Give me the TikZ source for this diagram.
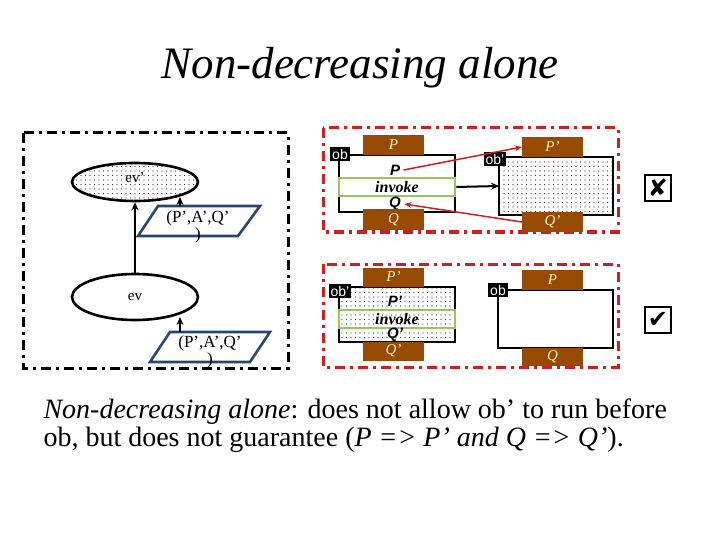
\documentclass[tikz,border=0pt]{standalone}
\usepackage{fontspec}
\setmainfont{Liberation Serif}
\newfontfamily\djv{DejaVu Sans}
\newfontfamily\lsans{Liberation Sans}
\usetikzlibrary{shapes.geometric,patterns,arrows.meta}
\pgfdeclarepatternformonly{sparsedots}{\pgfqpoint{-1pt}{-1pt}}{\pgfqpoint{1pt}{1pt}}{\pgfqpoint{4.5pt}{4.5pt}}{\pgfpathcircle{\pgfqpoint{0pt}{0pt}}{0.55pt}\pgfusepath{fill}}
\definecolor{brn}{RGB}{150,75,0}
\definecolor{grn}{RGB}{150,200,90}
\definecolor{rd}{RGB}{210,30,30}
\definecolor{pblue}{RGB}{40,70,105}
\definecolor{lbl}{RGB}{255,245,200}
\begin{document}
\begin{tikzpicture}[x=1pt,y=-1pt,
  frameK/.style={line width=3pt,dash pattern=on 10pt off 5pt on 3pt off 5pt},
  frameR/.style={frameK,draw=rd},
  box/.style={draw,line width=2.6pt},
  dots/.style={pattern=sparsedots,pattern color=black!80},
  brbox/.style={fill=brn,text=lbl,font=\itshape\fontsize{15}{15}\selectfont,inner sep=0pt},
  obl/.style={fill=black,text=white,font=\lsans\fontsize{14}{14}\selectfont,inner sep=2pt},
  inv/.style={draw=grn,line width=2.6pt,font=\bfseries\itshape\fontsize{16}{16}\selectfont,inner sep=0pt},
  arr/.style={-{Stealth[length=8pt,width=7pt]},line width=2pt},
  rarr/.style={-{Stealth[length=7pt,width=6pt]},line width=1.5pt,draw=rd},
  par/.style={draw=pblue,line width=2.6pt},
  chk/.style={draw,line width=2.6pt,minimum size=26pt,inner sep=0pt,font=\djv\bfseries\fontsize{24}{24}\selectfont}]
\useasboundingbox (0,0) rectangle (720,540);
\node[font=\itshape\fontsize{45}{45}\selectfont] (title) at (360,68) {Non-decreasing alone};
% left panel
\draw[frameK] (23,133) rectangle (288,368);
\node[ellipse,draw,line width=2.6pt,minimum width=126pt,minimum height=38pt,dots,inner sep=0pt] (evp) at (135,182) {};
\node[font=\fontsize{15}{15}\selectfont] at (135,178) {ev’};
\node[ellipse,draw,line width=2.6pt,minimum width=126pt,minimum height=46pt,inner sep=0pt,font=\fontsize{15}{15}\selectfont] (ev) at (135,297) {ev};
\draw[par] (158,206) -- (260,206) -- (238,236) -- (138,236) -- cycle;
\draw[par] (170,332) -- (270,332) -- (250,362) -- (150,362) -- cycle;
\node[font=\fontsize{17}{17}\selectfont,align=center] (p1) at (198,227) {(P’,A’,Q’\\)};
\node[font=\fontsize{17}{17}\selectfont,align=center] (p2) at (210,352) {(P’,A’,Q’\\)};
\coordinate (p1t) at (180,206); \coordinate (p1e) at (180,197);
\coordinate (p2t) at (180,332); \coordinate (p2e) at (180,317);
\draw[arr] (ev.north) -- (evp.south);
\draw[arr] (p1t) -- (p1e);
\draw[arr] (p2t) -- (p2e);
% right top
\draw[frameR] (323,128) rectangle (618,232);
\draw[box] (339,155) rectangle (455,212);
\node[inv,minimum width=116pt,minimum height=18pt] (inv1) at (397,187) {invoke};
\node[font=\lsans\bfseries\itshape\fontsize{15}{15}\selectfont] (tp1) at (395,170) {P};
\node[font=\lsans\bfseries\itshape\fontsize{15}{15}\selectfont] (tq1) at (395,204) {Q};
\node[brbox,minimum width=61pt,minimum height=20pt] (P1) at (393.5,145) {P};
\node[brbox,minimum width=61pt,minimum height=21pt] (Q1) at (393.5,220) {Q};
\node[obl] (ob1) at (340,154) {ob};
\draw[box,dots] (499,157) rectangle (613,215);
\coordinate (rb1) at (499,186);
\node[brbox,minimum width=61pt,minimum height=20pt] (P2) at (552.5,147) {P’};
\node[brbox,minimum width=61pt,minimum height=20pt] (Q2) at (552.5,222) {Q’};
\node[obl] (ob2) at (495,159) {ob’};
\draw[arr] (inv1.east) -- (rb1);
\draw[rarr] (tp1.east) -- (P2.west);
\draw[rarr] (Q2.west) -- (tq1.east);
\node[chk] (x1) at (658,188) {✘};
% right bottom
\draw[frameR] (323,264) rectangle (618,367);
\draw[box,dots] (339,287) rectangle (455,342);
\node[inv,minimum width=116pt,minimum height=18pt] (inv2) at (397,319) {invoke};
\node[font=\lsans\bfseries\itshape\fontsize{15}{15}\selectfont] at (395,301) {P’};
\node[font=\lsans\bfseries\itshape\fontsize{15}{15}\selectfont] at (395,335) {Q’};
\node[brbox,minimum width=61pt,minimum height=19pt] (P3) at (393.5,277) {P’};
\node[brbox,minimum width=61pt,minimum height=19pt] (Q3) at (393.5,351) {Q’};
\node[obl] (ob3) at (340,291) {ob’};
\draw[box] (498,290) rectangle (613,348);
\node[brbox,minimum width=61pt,minimum height=20pt] (P4) at (552.5,280) {P};
\node[brbox,minimum width=61pt,minimum height=18pt] (Q4) at (552.5,357) {Q};
\node[obl] (ob4) at (498,290) {ob};
\node[chk] (c1) at (658,320) {✔};
% caption
\node[anchor=west,align=left,font=\fontsize{28}{28}\selectfont] (cap) at (40,426) {\textit{Non-decreasing alone}: does not allow ob’ to run before\\ob, but does not guarantee (\textit{P => P’ and Q => Q’}).};
\end{tikzpicture}
\end{document}
